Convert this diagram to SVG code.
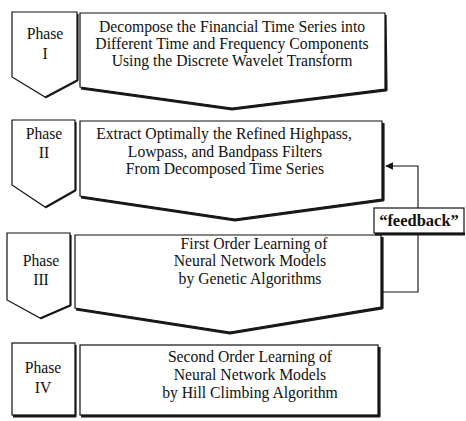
<svg xmlns="http://www.w3.org/2000/svg" width="466" height="421" viewBox="0 0 466 421">
<style>
.shape{fill:#fff;stroke:#111;stroke-width:1.2;stroke-linejoin:miter}
.shadow{fill:none;stroke:#1a1a1a;stroke-width:3.2;stroke-linejoin:round}
.t{font-family:"Liberation Serif","Times New Roman",serif;font-size:15.7px;fill:#111;text-anchor:middle}
.fb{font-family:"Liberation Serif","Times New Roman",serif;font-size:16.5px;font-weight:bold;fill:#111;text-anchor:middle}
.conn{fill:none;stroke:#111;stroke-width:1.1}
</style>
<defs>
<marker id="ah" viewBox="0 0 10 10" refX="9" refY="5" markerWidth="7" markerHeight="7" orient="auto">
<path d="M0,0 L10,5 L0,10 Z" fill="#111"/>
</marker>
</defs>

<g id="phase1">
<polyline class="shadow" points="77,14 77,80 45,97"/>
<polygon class="shape" points="12,12 77,12 77,80 45,97 12,77"/>
<text class="t" x="45" y="39">Phase</text>
<text class="t" x="45" y="59">I</text>
<polyline class="shadow" points="385,15 386,90 232,109 81,88"/>
<polygon class="shape" points="80,13 385,13 385,89 232,108 80,87"/>
<text class="t" x="232" y="32">Decompose the Financial Time Series into</text>
<text class="t" x="232" y="49">Different Time and Frequency Components</text>
<text class="t" x="232" y="66">Using the Discrete Wavelet Transform</text>
</g>

<g id="phase2">
<polyline class="shadow" points="75,122 75,190 45,207"/>
<polygon class="shape" points="12,120 75,120 75,190 45,207 12,185"/>
<text class="t" x="44" y="139">Phase</text>
<text class="t" x="44" y="158">II</text>
<polyline class="shadow" points="383,123 383,200 235,220 81,197"/>
<polygon class="shape" points="80,121 382,121 382,199 235,219 80,196"/>
<text class="t" x="224" y="139">Extract Optimally the Refined Highpass,</text>
<text class="t" x="225" y="157">Lowpass, and Bandpass Filters</text>
<text class="t" x="225" y="174">From Decomposed Time Series</text>
</g>

<g id="phase3">
<polyline class="shadow" points="70,235 70,305 40,318"/>
<polygon class="shape" points="7,233 70,233 70,305 40,318 7,300"/>
<text class="t" x="41" y="266">Phase</text>
<text class="t" x="41" y="285">III</text>
<polyline class="shadow" points="382,237 382,308 230,333 76,309"/>
<polygon class="shape" points="75,235 381,235 381,307 230,332 75,308"/>
<text class="t" x="254" y="249">First Order Learning of</text>
<text class="t" x="250" y="266">Neural Network Models</text>
<text class="t" x="250" y="284">by Genetic Algorithms</text>
</g>

<g id="phase4">
<polyline class="shadow" points="75,345 75,416 13,416"/>
<rect class="shape" x="12" y="343" width="63" height="72"/>
<text class="t" x="43" y="373">Phase</text>
<text class="t" x="43" y="393">IV</text>
<polyline class="shadow" points="379,347 379,416 81,416"/>
<rect class="shape" x="80" y="345" width="298" height="70"/>
<text class="t" x="250" y="362">Second Order Learning of</text>
<text class="t" x="250" y="380">Neural Network Models</text>
<text class="t" x="250" y="398">by Hill Climbing Algorithm</text>
</g>

<g id="connectors">
<polyline class="conn" points="418,208 418,166 386,166" marker-end="url(#ah)"/>
<polyline class="conn" points="418,233 418,292 383,292"/>
</g>

<g id="feedback">
<line x1="375" y1="234" x2="465" y2="234" stroke="#1a1a1a" stroke-width="3"/>
<rect x="374" y="208" width="90" height="25" fill="#fff" stroke="#111" stroke-width="1.2"/>
<text class="fb" x="419" y="226">“feedback”</text>
</g>
</svg>
